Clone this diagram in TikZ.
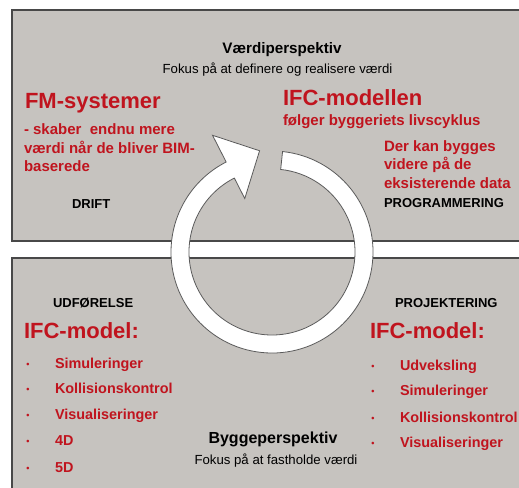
\documentclass[tikz,border=0pt]{standalone}
\usepackage{fontspec}
\setmainfont{Liberation Sans}
\definecolor{panelfill}{RGB}{198,195,191}
\definecolor{paneledge}{RGB}{72,72,72}
\definecolor{darkred}{RGB}{192,20,30}
\definecolor{ringedge}{RGB}{90,90,90}
\tikzset{
  panel/.style={fill=panelfill, draw=paneledge, line width=1.4pt},
  ring/.style={fill=white, draw=ringedge, line width=0.8pt, line join=miter},
  txt/.style={inner sep=0pt, outer sep=0pt},
  heading/.style={txt, anchor=base, font=\bfseries\fontsize{16}{19}\selectfont},
  subheading/.style={txt, anchor=base, font=\fontsize{13.2}{16}\selectfont},
  phase/.style={txt, anchor=base west, font=\bfseries\fontsize{13}{16}\selectfont},
  bigred/.style={txt, anchor=base west, text=darkred, font=\bfseries\fontsize{22}{26}\selectfont},
  redtext/.style={txt, anchor=base west, text=darkred, align=left, font=\bfseries\fontsize{15}{18.3}\selectfont},
  item/.style={txt, anchor=base west, text=darkred, font=\bfseries\fontsize{14.4}{17}\selectfont},
  dot/.style={txt, anchor=base, text=darkred, font=\bfseries\fontsize{9}{10}\selectfont},
}
\begin{document}
\begin{tikzpicture}[x=1pt, y=-1pt]
\useasboundingbox (0,0) rectangle (519,487);
\clip (0,0) rectangle (519,487);
\fill[white] (0,0) rectangle (519,487);

% the two perspective panels
\draw[panel] (12,10) rectangle (545,241);
\draw[panel] (12,258) rectangle (545,510);

% circular life-cycle arrow
\coordinate (c) at (272,252);
\begin{scope}[shift={(c)}]
  \draw[ring] (84:101pt) arc[start angle=84, end angle=-243, radius=101pt]
    -- (117:131pt) -- (97:102pt) -- (117:60pt) -- (117:83pt)
    arc[start angle=-243, end angle=84, radius=83pt] -- cycle;
\end{scope}

% upper panel (multi-line nodes are placed by the baseline of their last line)
\node[heading, font=\bfseries\fontsize{15.2}{18}\selectfont] (vp) at (282,53.5) {Værdiperspektiv};
\node[subheading] (vps) at (277.5,73.7) {Fokus på at definere og realisere værdi};
\node[bigred] (fm) at (25,108) {FM-systemer};
\node[redtext] (fmt) at (24,171.4) {- skaber\ \ endnu mere\\værdi når de bliver BIM-\\baserede};
\node[phase] (drift) at (72,208.7) {DRIFT};
\node[bigred] (ifc) at (283,105) {IFC-modellen};
\node[redtext] (ifct) at (283,125.4) {følger byggeriets livscyklus};
\node[redtext] (data) at (384,188.2) {Der kan bygges\\videre på de\\eksisterende data};
\node[phase] (prog) at (384,207.7) {PROGRAMMERING};

% lower panel, left column
\node[phase] (udf) at (53,307.7) {UDFØRELSE};
\node[bigred] (ifcl) at (24,338) {IFC-model:};
\foreach \y/\t [count=\i] in {363/Simuleringer, 388/Kollisionskontrol, 414/Visualiseringer, 440/4D, 467/5D}{
  \node[dot] (bl\i) at (28,\y+4) {•};
  \node[item] (il\i) at (55,\y+5.2) {\t};
}

% lower panel, right column
\node[phase] (proj) at (395,307.7) {PROJEKTERING};
\node[bigred] (ifcr) at (370,338) {IFC-model:};
\foreach \y/\t [count=\i] in {365/Udveksling, 390/Simuleringer, 417/Kollisionskontrol, 442/Visualiseringer}{
  \node[dot] (br\i) at (373,\y+4) {•};
  \node[item] (ir\i) at (400,\y+5.2) {\t};
}

\node[heading] (bp) at (273,443.8) {Byggeperspektiv};
\node[subheading] (bps) at (276,464.7) {Fokus på at fastholde værdi};
\end{tikzpicture}
\end{document}
